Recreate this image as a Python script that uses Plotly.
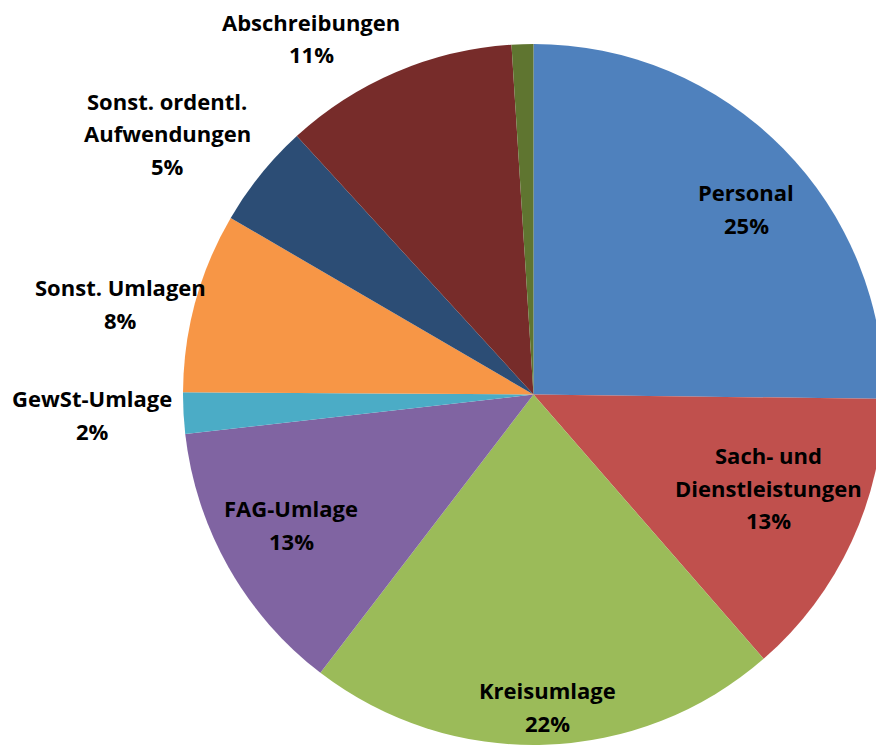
import plotly.graph_objects as go

# Aufwendungen, Anteile in Prozent
labels = ["Personal", "Sach- und<br>Dienstleistungen", "Kreisumlage", "FAG-Umlage",
          "GewSt-Umlage", "Sonst. Umlagen", "Sonst. ordentl.<br>Aufwendungen",
          "Abschreibungen", "Sonstige"]
values = [25.2, 13.4, 21.8, 12.8, 1.9, 8.3, 4.8, 10.8, 1.0]
pct_text = ["25%", "13%", "22%", "13%", "2%", "8%", "5%", "11%", ""]
colors = ["#4F81BD", "#C0504D", "#9BBB59", "#8064A2", "#4BACC6",
          "#F79646", "#2C4D75", "#772C2A", "#5F7530"]

OFF = 8  # page body margin
W, H = 884 - OFF, 746 - OFF

# label block centres in page pixels (x, y of first line)
label_pos = [(746, 192), (768, 455), (547, 690), (291, 508), (92, 398),
             (120, 287), (167, 101), (311, 22), None]
line_step = 32.5

fig = go.Figure()
fig.add_trace(go.Pie(
    labels=labels, values=values, sort=False, direction="clockwise", rotation=0,
    marker=dict(colors=colors, line=dict(width=0)),
    textinfo="none", hoverinfo="label+percent",
    domain=dict(x=[(183 - OFF) / W, 1.0],
                y=[0.0, (H - 43 + OFF) / H]),
    showlegend=False,
))

annotations = []
for lab, pct, pos in zip(labels, pct_text, label_pos):
    if pos is None:
        continue
    lines = lab.split("<br>") + [pct]
    x, y = pos
    for i, ln in enumerate(lines):
        annotations.append(dict(
            x=(x - OFF) / W, y=1 - (y - OFF + i * line_step) / H,
            xref="paper", yref="paper",
            text="<b>" + ln + "</b>", showarrow=False, xanchor="center", yanchor="middle",
            font=dict(family="Open Sans", size=22, color="#000000"),
        ))

fig.update_layout(
    width=W, height=H, margin=dict(l=0, r=0, t=0, b=0),
    paper_bgcolor="white", plot_bgcolor="white",
    annotations=annotations,
)
fig.write_html("out.html")
